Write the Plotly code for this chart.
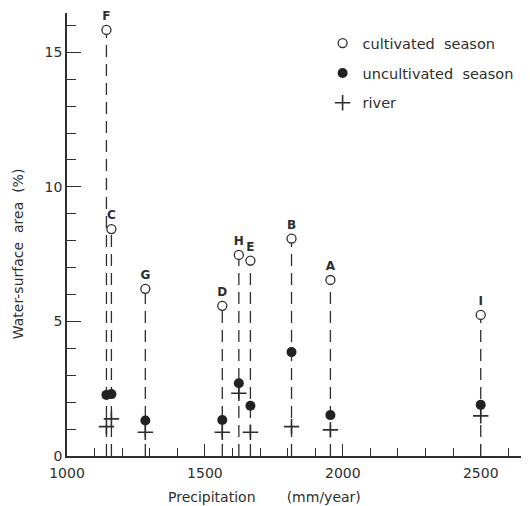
import plotly.graph_objects as go

# ---- data ----
sites = ["F", "C", "G", "D", "H", "E", "B", "A", "I"]
precipitation = [1143, 1161, 1284, 1563, 1623, 1665, 1814, 1955, 2500]
cultivated = [15.83, 8.43, 6.21, 5.58, 7.47, 7.26, 8.08, 6.54, 5.24]
uncultivated = [2.27, 2.30, 1.32, 1.34, 2.70, 1.87, 3.86, 1.52, 1.90]
river = [1.09, 1.38, 0.88, 0.88, 2.33, 0.88, 1.09, 0.97, 1.49]

INK = "#2e2e2e"
FONT = "DejaVu Sans"

fig = go.Figure()

# dashed stems from 0 up to the cultivated-season value
stem_x, stem_y = [], []
for p, c in zip(precipitation, cultivated):
    stem_x += [p, p, None]
    stem_y += [0, c, None]
fig.add_trace(go.Scatter(
    x=stem_x, y=stem_y, mode="lines",
    line=dict(color=INK, width=1.3, dash="12px,7px"),
    showlegend=False, hoverinfo="skip"))

fig.add_trace(go.Scatter(
    x=precipitation, y=river, mode="markers", name="river",
    marker=dict(symbol="cross-thin", size=11, color=INK,
                line=dict(width=1.6, color=INK)),
    legendgroup="r", legendrank=3))

fig.add_trace(go.Scatter(
    x=precipitation, y=uncultivated, mode="markers",
    name="uncultivated\u00a0\u00a0season",
    marker=dict(symbol="circle", size=10, color="#222222",
                line=dict(width=0)),
    legendgroup="u", legendrank=2))

fig.add_trace(go.Scatter(
    x=precipitation, y=cultivated, mode="markers+text",
    name="cultivated\u00a0\u00a0season",
    text=sites, textposition="top center", cliponaxis=False,
    textfont=dict(family=FONT, size=12, color=INK, weight="bold"),
    marker=dict(symbol="circle", size=9, color="white",
                line=dict(width=1.3, color=INK)),
    legendgroup="c", legendrank=1))

# the page body has an 8px margin, so the figure is 8px smaller and
# its margins are reduced by 8px on the left / top
fig.update_layout(
    width=522, height=498,
    margin=dict(l=59, r=9, t=5, b=50),
    paper_bgcolor="white", plot_bgcolor="white",
    font=dict(family=FONT, size=14, color=INK),
    showlegend=True,
    legend=dict(x=0.563, y=0.968, xanchor="left", yanchor="top",
                bgcolor="rgba(0,0,0,0)", borderwidth=0,
                traceorder="grouped", tracegroupgap=8,
                font=dict(family=FONT, size=14.5, color=INK)),
    xaxis=dict(range=[1000, 2646], showgrid=False, zeroline=False,
               showline=True, linecolor=INK, linewidth=1.5,
               ticks="inside", ticklen=12, tickwidth=1.3, tickcolor=INK,
               tick0=1000, dtick=500, ticklabelstandoff=3,
               minor=dict(ticks="inside", ticklen=8, tickwidth=1.1,
                          tickcolor=INK, dtick=100, showgrid=False),
               tickfont=dict(family=FONT, size=14, color=INK)),
    yaxis=dict(range=[0, 16.46], showgrid=False, zeroline=False,
               showline=True, linecolor=INK, linewidth=1.5,
               ticks="inside", ticklen=14, tickwidth=1.3, tickcolor=INK,
               tick0=0, dtick=5, ticklabelstandoff=0,
               minor=dict(ticks="inside", ticklen=9, tickwidth=1.1,
                          tickcolor=INK, dtick=1, showgrid=False),
               tickfont=dict(family=FONT, size=14, color=INK)),
    annotations=[
        dict(text="Precipitation" + "\u00a0" * 7 + "(mm/year)",
             xref="paper", yref="paper", x=0.436, y=0,
             xanchor="center", yanchor="middle", yshift=-41,
             showarrow=False, font=dict(family=FONT, size=14, color=INK)),
        dict(text="Water-surface\u00a0\u00a0area\u00a0\u00a0(%)",
             xref="paper", yref="paper", x=0, y=0.4556,
             xanchor="center", yanchor="middle", xshift=-49,
             textangle=-90, showarrow=False,
             font=dict(family=FONT, size=14, color=INK)),
    ],
)

fig.write_html("out.html")
